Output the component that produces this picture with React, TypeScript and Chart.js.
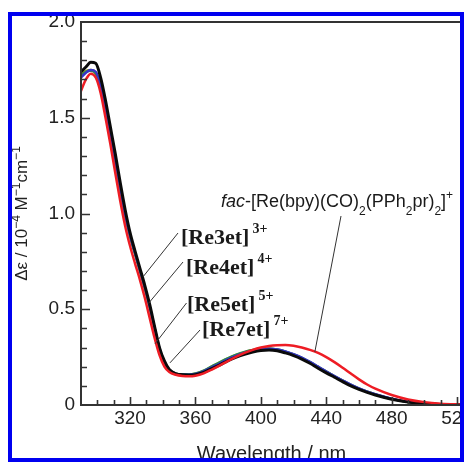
import React, { useEffect, useRef } from "react";
import { Chart, registerables } from "chart.js";

Chart.register(...registerables);

// ---- Data ----
const wavelengths = [290, 293, 296, 299, 302, 305, 308, 311, 314, 317, 320, 323, 326, 329, 332, 335, 338, 341, 344, 348, 352, 356, 360, 365, 370, 375, 380, 385, 390, 395, 400, 405, 410, 415, 420, 425, 430, 435, 440, 445, 450, 455, 460, 465, 470, 480, 490, 500, 510, 523];

// fac-[Re(bpy)(CO)2(PPh2pr)2]+ (red)
const facValues = [1.64, 1.70, 1.73, 1.71, 1.63, 1.50, 1.36, 1.21, 1.065, 0.935, 0.83, 0.74, 0.655, 0.56, 0.455, 0.35, 0.26, 0.20, 0.172, 0.158, 0.152, 0.150, 0.153, 0.165, 0.185, 0.207, 0.230, 0.252, 0.272, 0.288, 0.300, 0.308, 0.312, 0.313, 0.309, 0.300, 0.288, 0.272, 0.250, 0.224, 0.195, 0.164, 0.134, 0.107, 0.085, 0.052, 0.029, 0.015, 0.007, 0.002];
// [Re3et]3+ (black)
const re3etValues = [1.74, 1.765, 1.79, 1.785, 1.71, 1.59, 1.45, 1.31, 1.16, 1.02, 0.90, 0.805, 0.715, 0.625, 0.525, 0.41, 0.30, 0.23, 0.185, 0.163, 0.158, 0.156, 0.158, 0.170, 0.190, 0.210, 0.232, 0.250, 0.265, 0.277, 0.285, 0.287, 0.283, 0.272, 0.258, 0.240, 0.218, 0.192, 0.168, 0.145, 0.122, 0.100, 0.082, 0.066, 0.052, 0.030, 0.015, 0.007, 0.003, 0.001];
// [Re4et]4+ (blue)
const re4etValues = [1.71, 1.735, 1.75, 1.74, 1.67, 1.555, 1.42, 1.28, 1.135, 0.995, 0.885, 0.795, 0.705, 0.615, 0.515, 0.40, 0.295, 0.225, 0.183, 0.163, 0.158, 0.158, 0.162, 0.176, 0.197, 0.218, 0.240, 0.258, 0.273, 0.285, 0.292, 0.294, 0.290, 0.280, 0.265, 0.247, 0.225, 0.200, 0.175, 0.151, 0.128, 0.106, 0.087, 0.070, 0.056, 0.033, 0.017, 0.008, 0.004, 0.001];
// [Re5et]5+ (green)
const re5etValues = [1.72, 1.74, 1.745, 1.73, 1.66, 1.545, 1.41, 1.27, 1.125, 0.99, 0.88, 0.79, 0.70, 0.61, 0.51, 0.40, 0.29, 0.222, 0.182, 0.164, 0.160, 0.160, 0.165, 0.180, 0.202, 0.224, 0.245, 0.263, 0.277, 0.287, 0.293, 0.294, 0.290, 0.279, 0.264, 0.246, 0.224, 0.199, 0.174, 0.150, 0.127, 0.105, 0.086, 0.069, 0.055, 0.032, 0.016, 0.008, 0.004, 0.001];
// [Re7et]7+ (olive)
const re7etValues = [1.73, 1.745, 1.75, 1.735, 1.665, 1.55, 1.415, 1.275, 1.13, 0.992, 0.882, 0.792, 0.702, 0.612, 0.512, 0.40, 0.292, 0.223, 0.182, 0.163, 0.159, 0.159, 0.163, 0.178, 0.200, 0.222, 0.243, 0.261, 0.275, 0.286, 0.292, 0.294, 0.290, 0.279, 0.264, 0.246, 0.224, 0.199, 0.174, 0.150, 0.127, 0.105, 0.086, 0.069, 0.055, 0.032, 0.016, 0.008, 0.004, 0.001];

const seriesNames = ["fac-[Re(bpy)(CO)2(PPh2pr)2]+", "[Re3et]3+", "[Re4et]4+", "[Re5et]5+", "[Re7et]7+"];
const seriesColors = ["#ee1c24", "#0a0a0a", "#3535c8", "#2f8f3f", "#9a9a30"];

const xTickValues = [320, 360, 400, 440, 480, 520];
const xTickLabels = ["320", "360", "400", "440", "480", "520"];
const yTickValues = [0, 0.5, 1.0, 1.5, 2.0];
const yTickLabels = ["0", "0.5", "1.0", "1.5", "2.0"];

const complexLabels = ["[Re3et]", "[Re4et]", "[Re5et]", "[Re7et]"];
const complexCharges = ["3+", "4+", "5+", "7+"];
// where each leader line touches the curves (wavelength, value)
const pointerWavelengths = [328, 331.2, 335.3, 344.4, 433];
const pointerValues = [0.67, 0.53, 0.32, 0.22, 0.277];

const SANS = '"Liberation Sans", Arial, sans-serif';
const SERIF = '"Liberation Serif", "Times New Roman", serif';

type Seg = { t: string; font: string; dy?: number };
function drawRich(ctx: CanvasRenderingContext2D, x: number, y: number, segs: Seg[]) {
  let cx = x;
  for (const s of segs) {
    ctx.font = s.font;
    ctx.fillText(s.t, cx, y + (s.dy || 0));
    cx += ctx.measureText(s.t).width;
  }
  return cx;
}
function richWidth(ctx: CanvasRenderingContext2D, segs: Seg[]) {
  let w = 0;
  for (const s of segs) {
    ctx.font = s.font;
    w += ctx.measureText(s.t).width;
  }
  return w;
}

const decorPlugin = {
  id: "decor",
  afterDraw(chart: any) {
    const { ctx, chartArea: a, scales } = chart;
    const xs = scales.x;
    const ys = scales.y;
    ctx.save();
    // frame
    ctx.strokeStyle = "#333";
    ctx.lineWidth = 2;
    ctx.beginPath();
    ctx.moveTo(a.left, a.top);
    ctx.lineTo(a.right + 10, a.top);
    ctx.moveTo(a.left, a.top - 1);
    ctx.lineTo(a.left, a.bottom + 1);
    ctx.moveTo(a.left - 1, a.bottom);
    ctx.lineTo(a.right + 10, a.bottom);
    ctx.stroke();
    // inward ticks
    ctx.lineWidth = 1.6;
    ctx.beginPath();
    for (let v = 290; v <= 530; v += 10) {
      const px = Math.round(xs.getPixelForValue(v)) + 0.5;
      if (px <= a.left + 1) continue;
      const major = xTickValues.includes(v);
      ctx.moveTo(px, a.bottom);
      ctx.lineTo(px, a.bottom - (major ? 8 : 5));
    }
    for (let i = 1; i < 20; i++) {
      const v = i / 10;
      const py = Math.round(ys.getPixelForValue(v)) + 0.5;
      const major = i % 5 === 0;
      ctx.moveTo(a.left, py);
      ctx.lineTo(a.left + (major ? 9 : 6), py);
    }
    ctx.stroke();

    // axis titles
    ctx.fillStyle = "#222";
    ctx.textBaseline = "alphabetic";
    ctx.textAlign = "left";
    ctx.font = `20px ${SANS}`;
    const xt = "Wavelength / nm";
    const xtw = ctx.measureText(xt).width;
    ctx.fillText(xt, (a.left + a.right) / 2 - xtw / 2, 460);

    const ySegs: Seg[] = [
      { t: "\u0394\u03b5 / 10", font: `17px ${SANS}` },
      { t: "\u22124", font: `12px ${SANS}`, dy: -7 },
      { t: " M", font: `17px ${SANS}` },
      { t: "\u22121", font: `12px ${SANS}`, dy: -7 },
      { t: "cm", font: `17px ${SANS}` },
      { t: "\u22121", font: `12px ${SANS}`, dy: -7 },
    ];
    ctx.save();
    ctx.translate(27, (a.top + a.bottom) / 2);
    ctx.rotate(-Math.PI / 2);
    const yw = richWidth(ctx, ySegs);
    drawRich(ctx, -yw / 2, 0, ySegs);
    ctx.restore();

    // annotations
    const textPos = [
      [181, 244, 178, 233],
      [186, 274, 183, 262],
      [187, 311, 186.5, 303],
      [202, 336, 200, 330],
    ];
    ctx.strokeStyle = "#333";
    ctx.lineWidth = 1;
    for (let i = 0; i < 5; i++) {
      const tipX = xs.getPixelForValue(pointerWavelengths[i]);
      const tipY = ys.getPixelForValue(pointerValues[i]);
      const sx = i < 4 ? textPos[i][2] : 341;
      const sy = i < 4 ? textPos[i][3] : 216;
      ctx.beginPath();
      ctx.moveTo(sx, sy);
      ctx.lineTo(tipX, tipY);
      ctx.stroke();
    }
    ctx.fillStyle = "#1a1a1a";
    for (let i = 0; i < 4; i++) {
      const [tx, ty] = textPos[i];
      ctx.font = `bold 22px ${SERIF}`;
      ctx.fillText(complexLabels[i], tx, ty);
      const w = ctx.measureText(complexLabels[i]).width;
      ctx.font = `bold 14px ${SERIF}`;
      ctx.fillText(complexCharges[i], tx + w + 3, ty - 11);
    }
    const facSegs: Seg[] = [
      { t: "fac", font: `italic 18px ${SANS}` },
      { t: "-[Re(bpy)(CO)", font: `18px ${SANS}` },
      { t: "2", font: `12px ${SANS}`, dy: 8 },
      { t: "(PPh", font: `18px ${SANS}` },
      { t: "2", font: `12px ${SANS}`, dy: 8 },
      { t: "pr)", font: `18px ${SANS}` },
      { t: "2", font: `12px ${SANS}`, dy: 8 },
      { t: "]", font: `18px ${SANS}` },
      { t: "+", font: `12px ${SANS}`, dy: -8 },
    ];
    drawRich(ctx, 221, 207, facSegs);
    ctx.restore();
  },
};

export default function App() {
  const canvasRef = useRef<HTMLCanvasElement | null>(null);

  useEffect(() => {
    const canvas = canvasRef.current;
    if (!canvas) return;
    const allValues = [facValues, re3etValues, re4etValues, re5etValues, re7etValues];
    const datasets = allValues.map((vals, i) => ({
      label: seriesNames[i],
      data: wavelengths.map((w, j) => ({ x: w, y: vals[j] })),
      borderColor: seriesColors[i],
      backgroundColor: seriesColors[i],
      borderWidth: i === 1 ? 3 : 2.5,
      pointRadius: 0,
      tension: 0.4,
      cubicInterpolationMode: "monotone" as const,
      fill: false,
    }));
    const chart = new Chart(canvas, {
      type: "line",
      data: { datasets },
      options: {
        responsive: false,
        animation: false,
        layout: { padding: { top: 22, right: 2, left: 0, bottom: 0 } },
        plugins: { legend: { display: false }, tooltip: { enabled: false } },
        scales: {
          x: {
            type: "linear",
            min: 290,
            max: 523,
            grid: { display: false, drawTicks: false },
            border: { display: false },
            ticks: {
              autoSkip: false,
              maxRotation: 0,
              padding: 2,
              color: "#222",
              font: { family: SANS, size: 19 },
              callback: (v: any) => {
                const i = xTickValues.indexOf(Number(v));
                return i >= 0 ? xTickLabels[i] : "";
              },
            },
            afterBuildTicks: (scale: any) => {
              scale.ticks = xTickValues.map((v) => ({ value: v }));
            },
            afterFit: (scale: any) => {
              scale.height = 57;
              scale.paddingLeft = 0;
              scale.paddingRight = 0;
            },
          },
          y: {
            type: "linear",
            min: 0,
            max: 2,
            grid: { display: false, drawTicks: false },
            border: { display: false },
            ticks: {
              autoSkip: false,
              padding: 6,
              color: "#222",
              font: { family: SANS, size: 19 },
              callback: (v: any) => {
                const i = yTickValues.indexOf(Number(v));
                return i >= 0 ? yTickLabels[i] : "";
              },
            },
            afterBuildTicks: (scale: any) => {
              scale.ticks = yTickValues.map((v) => ({ value: v }));
            },
            afterFit: (scale: any) => {
              scale.width = 81;
              scale.paddingTop = 0;
              scale.paddingBottom = 0;
            },
          },
        },
      },
      plugins: [decorPlugin],
    });
    return () => chart.destroy();
  }, []);

  return (
    <div style={{ position: "absolute", left: 0, top: 0, width: 464, height: 462, overflow: "hidden", background: "#fff" }}>
      <canvas ref={canvasRef} width={464} height={462} style={{ position: "absolute", left: 0, top: 0, width: 464, height: 462 }} />
      <div
        style={{
          position: "absolute",
          left: 8,
          top: 12,
          width: 456,
          height: 450,
          boxSizing: "border-box",
          border: "4px solid #0000f0",
          pointerEvents: "none",
        }}
      />
    </div>
  );
}
